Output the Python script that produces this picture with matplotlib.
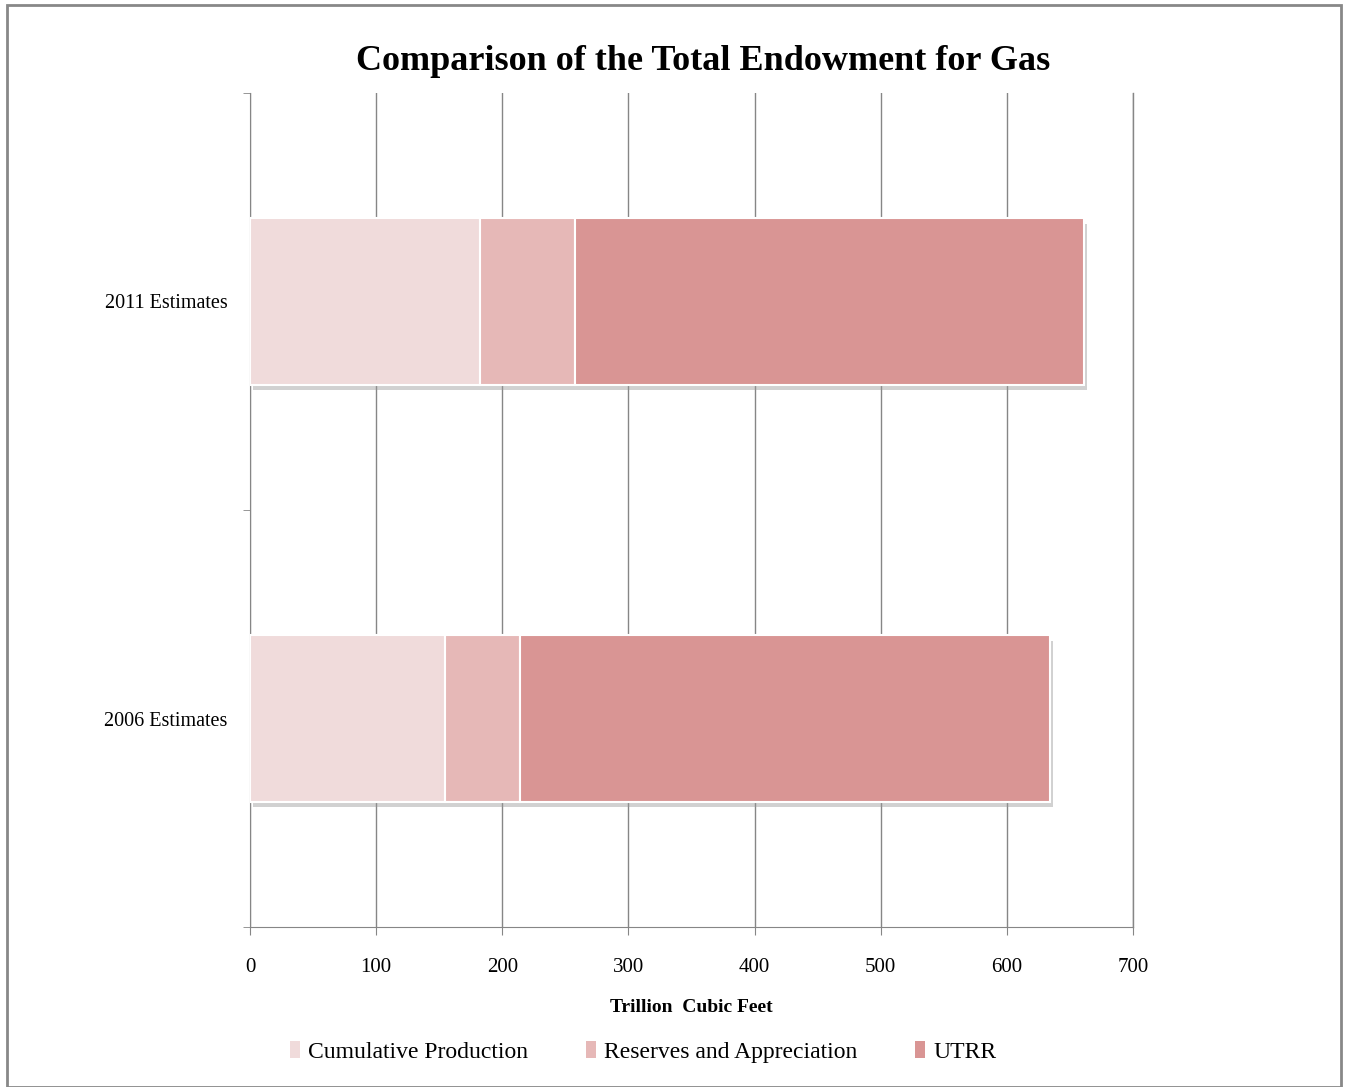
import matplotlib.pyplot as plt
import matplotlib.patheffects as pe
from matplotlib.patches import Patch
import numpy as np

categories = ['2006 Estimates', '2011 Estimates']
cumulative = [154.6, 182.3]
reserves = [59.5, 75.3]
utrr = [420.0, 403.6]
series_names = ['Cumulative Production', 'Reserves and Appreciation', 'UTRR']
colors = ['#F0DBDB', '#E6B8B7', '#D99594']

plt.rcParams['font.family'] = ['Liberation Serif', 'DejaVu Serif']

fig = plt.figure(figsize=(13.46, 10.87), dpi=100)
ax = fig.add_axes([250/1346, 1-927/1087, 883/1346, 834/1087])

y = np.arange(len(categories))
left = np.zeros(len(categories))
shadow = [pe.SimplePatchShadow(offset=(2, -4), shadow_rgbFace='#999999', alpha=0.45), pe.Normal()]
for vals, name, c in zip([cumulative, reserves, utrr], series_names, colors):
    bars = ax.barh(y, vals, left=left, height=0.4, color=c, edgecolor='white',
                   linewidth=1.5, zorder=3)
    for b in bars:
        b.set_path_effects(shadow)
    left = left + np.array(vals)

ax.set_xlim(0, 700)
ax.set_ylim(-0.5, 1.5)
ax.set_xticks(np.arange(0, 701, 100))
ax.set_yticks(y)
ax.set_yticklabels(categories, fontsize=14.5)
ax.set_yticks([-0.5, 0.5, 1.5], minor=True)
ax.tick_params(axis='y', which='major', length=0, pad=16)
ax.tick_params(axis='y', which='minor', length=5, color='#868686')
ax.tick_params(axis='x', length=6, color='#868686', labelsize=15, pad=16)
ax.grid(axis='x', color='#868686', linewidth=1, zorder=0)
ax.axvline(700, color='#868686', linewidth=1, clip_on=False, zorder=0)
for s in ['top', 'right']:
    ax.spines[s].set_visible(False)
for s in ['left', 'bottom']:
    ax.spines[s].set_color('#868686')

ax.set_xlabel('Trillion  Cubic Feet', fontsize=14, fontweight='bold', labelpad=16)
fig.text(703/1346, 1-62/1087, 'Comparison of the Total Endowment for Gas',
         fontsize=26, fontweight='bold', ha='center', va='center')

handles = [Patch(facecolor=c, edgecolor='none', label=n) for c, n in zip(colors, series_names)]
fig.legend(handles=handles, loc='center', bbox_to_anchor=(643/1346, 1-1052/1087), ncol=3,
           frameon=False, fontsize=17, handlelength=0.42, handleheight=0.75,
           handletextpad=0.35, columnspacing=2.45)

border = plt.Rectangle((7/1346, 0), 1334/1346, 1-5/1087, transform=fig.transFigure,
                       fill=False, edgecolor='#888888', linewidth=2)
fig.patches.append(border)

fig.savefig('out.png', dpi=100)
